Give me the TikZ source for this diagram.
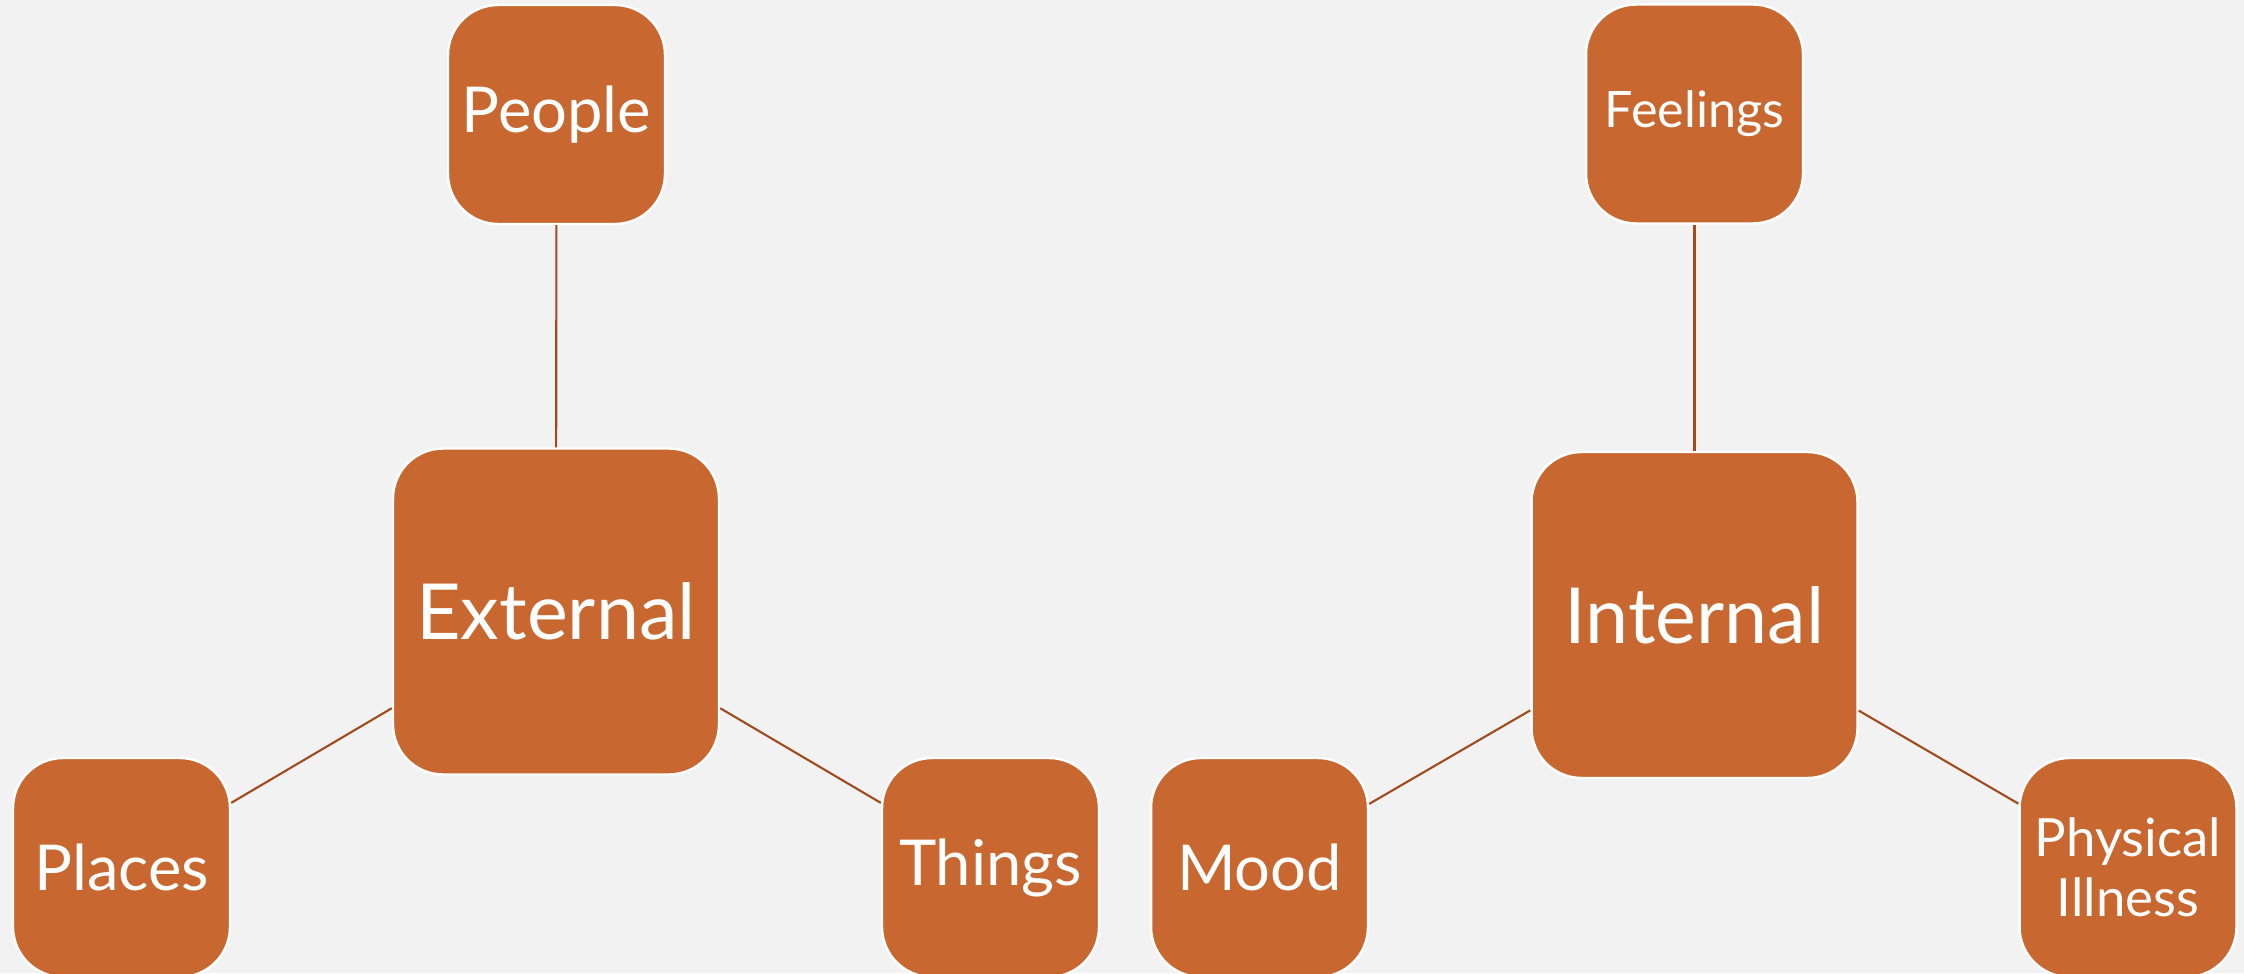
\documentclass[tikz,border=0pt]{standalone}
\usepackage{fontspec}
\setmainfont{Lato}
\definecolor{boxfill}{RGB}{200,104,48}
\definecolor{linkline}{RGB}{160,75,30}
\definecolor{pagegray}{RGB}{242,242,242}
\tikzset{
	topic/.style={rectangle, rounded corners=0.5cm, fill=boxfill, draw=white,
		line width=0.7pt, text=white, inner sep=0pt, align=center,
		minimum width=2.17cm, minimum height=2.19cm,
		font=\fontsize{18}{22}\selectfont},
	hub/.style={topic, minimum width=3.26cm, minimum height=3.26cm,
		font=\fontsize{22}{26}\selectfont},
	link/.style={draw=linkline, line width=0.6pt}
}
\begin{document}
\begin{tikzpicture}
	\path[use as bounding box, fill=pagegray] (0,0) rectangle (22.44,9.73);
	% left group
	\node[hub] (external) at (5.56,3.615) {External};
	\node[topic] (people) at (5.565,8.585) {People};
	\node[topic] (places) at (1.215,1.055) {Places};
	\node[topic] (things) at (9.905,1.055) {Things};
	% right group
	\node[hub] (internal) at (16.945,3.58) {Internal};
	\node[topic, font=\fontsize{14.3}{17}\selectfont] (feelings) at (16.945,8.59) {Feelings};
	\node[topic] (mood) at (12.595,1.055) {Mood};
	\node[topic, font=\fontsize{15}{17}\selectfont] (illness) at (21.28,1.055) {Physical\\Illness};
	\draw[link] (external) -- (people);
	\draw[link] (external) -- (places);
	\draw[link] (external) -- (things);
	\draw[link] (internal) -- (feelings);
	\draw[link] (internal) -- (mood);
	\draw[link] (internal) -- (illness);
\end{tikzpicture}
\end{document}
